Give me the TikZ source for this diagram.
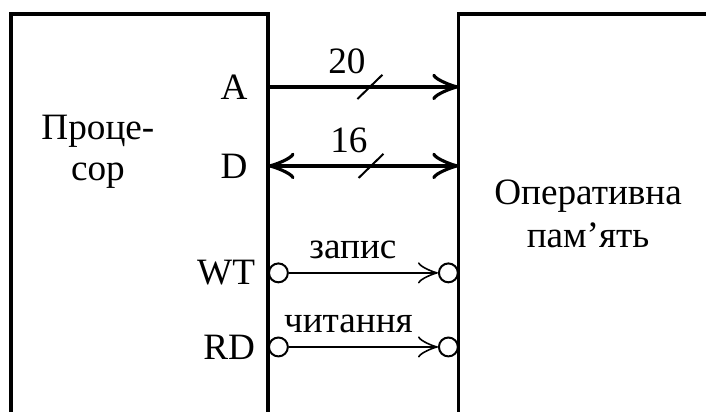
\documentclass[tikz,border=0pt]{standalone}
\usepackage{fontspec}
\setmainfont{Liberation Serif}
\usepackage{tikz}
\usetikzlibrary{arrows.meta, positioning, calc}
\tikzset{
    block_line/.style={
        draw=black, line width=2.4pt, line join=miter
    },
    bus_arrow/.style={
        -{Classical TikZ Rightarrow[length=20pt, width=20pt]}, draw=black, line width=3pt
    },
    bus_both/.style={
        {Classical TikZ Rightarrow[length=20pt, width=20pt]}-{Classical TikZ Rightarrow[length=20pt, width=20pt]},
        draw=black, line width=3pt
    },
    ctrl_arrow/.style={
        -{Classical TikZ Rightarrow[length=15pt, width=16pt]}, draw=black, line width=1.5pt
    },
    slash_mark/.style={
        draw=black, line width=1.5pt
    },
    pin_circ/.style={
        circle, draw=black, line width=1.5pt, fill=white,
        minimum size=0.5cm, inner sep=0pt
    },
    lbl/.style={
        font=\fontsize{28}{32}\selectfont, text=black, inner sep=1pt
    }
}

\begin{document}
\begin{tikzpicture}
    \useasboundingbox (0,0) rectangle (18.68,10.90);

    % Processor block (open at the bottom)
    \coordinate (cpu_bl) at (0.29,0);
    \coordinate (cpu_tl) at (0.29,10.53);
    \coordinate (cpu_tr) at (7.09,10.53);
    \coordinate (cpu_br) at (7.09,0);
    \draw[block_line] (cpu_bl) -- (cpu_tl) -- (cpu_tr) -- (cpu_br);
    \node[lbl, font=\fontsize{28}{31}\selectfont, align=center] (cpu_name) at (2.59,6.88) {Проце-\\сор};

    % Memory block (open at the bottom and right)
    \coordinate (mem_tr) at (18.68,10.53);
    \coordinate (mem_tl) at (12.14,10.53);
    \coordinate (mem_bl) at (12.14,0);
    \draw[block_line] (mem_tr) -- (mem_tl) -- (mem_bl);
    \node[lbl, align=center] (mem_name) at (15.56,5.24) {Оперативна\\пам’ять};

    % Bus end points on both blocks
    \coordinate (cpu_A) at (7.09,8.60);
    \coordinate (mem_A) at (12.14,8.60);
    \coordinate (cpu_D) at (7.09,6.51);
    \coordinate (mem_D) at (12.14,6.51);
    \coordinate (cpu_WT) at (7.09,3.68);
    \coordinate (mem_WT) at (12.14,3.68);
    \coordinate (cpu_RD) at (7.09,1.72);
    \coordinate (mem_RD) at (12.14,1.72);

    % Address bus
    \node[lbl, left=0.5cm of cpu_A] (sig_A) {A};
    \draw[bus_arrow] (cpu_A) -- node[lbl, pos=0.414, above=7pt] (width_A) {20} (mem_A);
    \draw[slash_mark] ($(cpu_A)!0.534!(mem_A)$) ++(-0.33,-0.32) -- ++(0.66,0.64);

    % Data bus
    \node[lbl, left=0.5cm of cpu_D] (sig_D) {D};
    \draw[bus_both] (cpu_D) -- node[lbl, pos=0.424, above=7pt] (width_D) {16} (mem_D);
    \draw[slash_mark] ($(cpu_D)!0.54!(mem_D)$) ++(-0.33,-0.32) -- ++(0.66,0.64);

    % Write strobe
    \node[lbl, left=0.3cm of cpu_WT] (sig_WT) {WT};
    \node[pin_circ, right=0pt of cpu_WT] (wt_src) {};
    \node[pin_circ, left=0pt of mem_WT] (wt_dst) {};
    \draw[ctrl_arrow] (wt_src) -- node[lbl, pos=0.43, above=9pt] (txt_WT) {запис} (wt_dst);

    % Read strobe
    \node[lbl, left=0.3cm of cpu_RD] (sig_RD) {RD};
    \node[pin_circ, right=0pt of cpu_RD] (rd_src) {};
    \node[pin_circ, left=0pt of mem_RD] (rd_dst) {};
    \draw[ctrl_arrow] (rd_src) -- node[lbl, pos=0.40, above=9pt] (txt_RD) {читання} (rd_dst);
\end{tikzpicture}
\end{document}
